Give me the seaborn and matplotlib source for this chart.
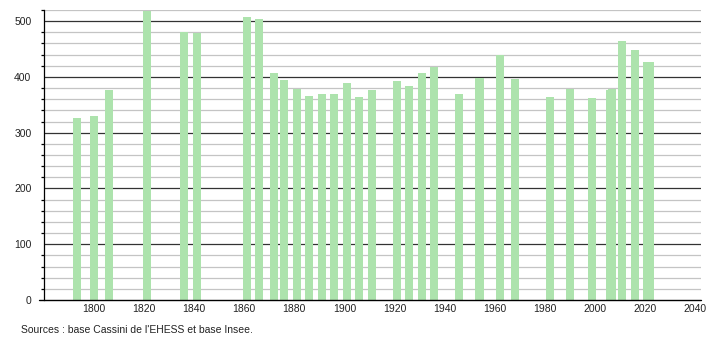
import matplotlib
matplotlib.use("Agg")
import matplotlib.pyplot as plt
import seaborn as sns
import pandas as pd
import numpy as np
from matplotlib.lines import Line2D

years = [1793, 1800, 1806, 1821, 1836, 1841, 1861, 1866, 1872, 1876, 1881,
         1886, 1891, 1896, 1901, 1906, 1911, 1921, 1926, 1931, 1936, 1946,
         1954, 1962, 1968, 1982, 1990, 1999, 2006, 2007, 2011, 2016, 2021, 2022]
population = [326, 330, 377, 518, 481, 478, 508, 503, 407, 395, 379,
              366, 369, 369, 389, 364, 376, 393, 383, 407, 418, 369,
              398, 440, 396, 364, 379, 362, 376, 379, 465, 448, 427, 427]
x_ticks = [1800, 1820, 1840, 1860, 1880, 1900, 1920, 1940, 1960, 1980, 2000, 2020, 2040]
y_major = [0, 100, 200, 300, 400, 500]
source_text = "Sources : base Cassini de l'EHESS et base Insee."

df = pd.DataFrame({"year": years, "pop": population})

sns.set_style("white")
plt.rcParams["font.family"] = ["Liberation Sans", "DejaVu Sans"]

fig = plt.figure(figsize=(7.1, 3.4), dpi=100)
ax = fig.add_axes([44 / 710, 40 / 340, (701 - 44) / 710, (300 - 10) / 340])

sns.barplot(data=df, x="year", y="pop", native_scale=True, width=3.2,
            color="#ade3ad", saturation=1, errorbar=None, ax=ax,
            linewidth=0, zorder=3)

ax.set_xlim(1780, 2042.5)
ax.set_ylim(0, 520)
ax.set_xlabel("")
ax.set_ylabel("")

for v in range(20, 521, 20):
    if v % 100 == 0:
        ax.axhline(v, color="#333333", lw=0.9, zorder=1)
    else:
        ax.axhline(v, color="#c4c4c4", lw=0.9, zorder=1)

ax.set_xticks(x_ticks)
ax.set_xticklabels([str(t) for t in x_ticks], fontsize=7.5, color="#222222")
ax.set_yticks(y_major)
ax.set_yticklabels([str(t) for t in y_major], fontsize=7.5, color="#222222")
ax.set_yticks(list(range(0, 521, 20)), minor=True)
ax.tick_params(axis="x", length=0, pad=3)
ax.tick_params(axis="y", which="major", length=5, width=0.9, color="black", pad=4)
ax.tick_params(axis="y", which="minor", length=2.5, width=0.9, color="black", left=True)

for s in ["top", "right", "bottom"]:
    ax.spines[s].set_visible(False)
ax.spines["left"].set_color("black")
ax.spines["left"].set_linewidth(0.9)

ax.add_line(Line2D([-5 / 657, 1.0], [0, 0], transform=ax.transAxes,
                   color="black", lw=1.0, clip_on=False, zorder=5))

fig.text(21 / 710, 1 - 330 / 340, source_text, fontsize=7.5,
         color="#222222", va="center", ha="left")

fig.savefig("out.png", dpi=100)
